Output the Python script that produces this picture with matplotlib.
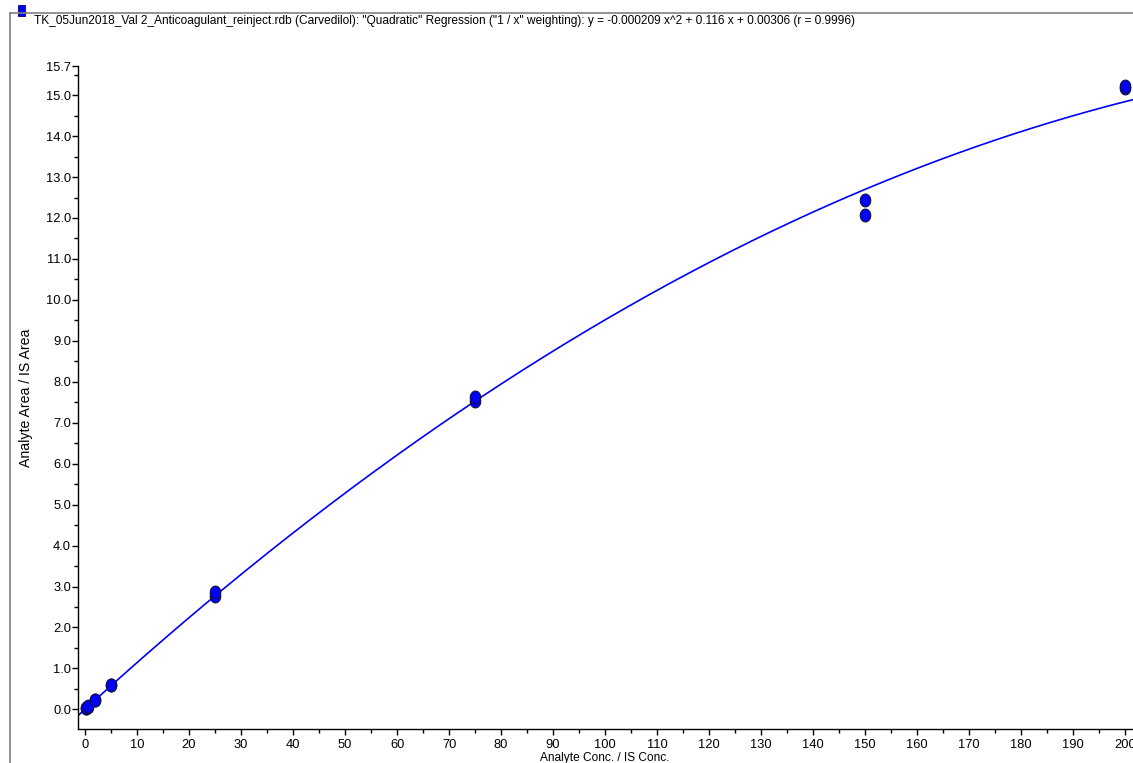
import matplotlib
matplotlib.use("Agg")
import matplotlib.pyplot as plt
import numpy as np
from matplotlib.path import Path
from matplotlib.lines import Line2D
from matplotlib.ticker import MultipleLocator, FixedLocator, FixedFormatter

plt.rcParams['font.family'] = ['Liberation Sans', 'DejaVu Sans']

# Data
conc = [0.25, 0.25, 0.5, 0.5, 2, 2, 5, 5, 25, 25, 75, 75, 150, 150, 200, 200]
ratio = [0.03, 0.04, 0.06, 0.08, 0.23, 0.24, 0.59, 0.60, 2.77, 2.87, 7.53, 7.62, 12.08, 12.44, 15.17, 15.22]
coef_a, coef_b, coef_c = -0.000209, 0.116, 0.00306
title = ('TK_05Jun2018_Val 2_Anticoagulant_reinject.rdb (Carvedilol): "Quadratic" Regression '
         '("1 / x" weighting): y = -0.000209 x^2 + 0.116 x + 0.00306 (r = 0.9996)')
y_ticks = [0.0, 1.0, 2.0, 3.0, 4.0, 5.0, 6.0, 7.0, 8.0, 9.0, 10.0, 11.0, 12.0, 13.0, 14.0, 15.0, 15.7]
x_ticks = list(range(0, 201, 10))

W, H = 1133, 763
fig = plt.figure(figsize=(W / 100, H / 100), dpi=100)

# frame lines
fig.add_artist(Line2D([10 / W, 10 / W], [0, 1 - 13 / H], color='#808080', lw=1.2, transform=fig.transFigure))
fig.add_artist(Line2D([10 / W, 1], [1 - 13 / H, 1 - 13 / H], color='#808080', lw=1.2, transform=fig.transFigure))
# legend square
fig.add_artist(plt.Rectangle((18 / W, 1 - 15.5 / H), 7 / W, 10 / H, facecolor='#0000ff',
                             edgecolor='#000080', lw=0.6, transform=fig.transFigure))
fig.text(34 / W, 1 - 21 / H, title, fontsize=8.6, va='center', ha='left')

left, right, top, bottom = 78, 1133, 66.5, 729
ax = fig.add_axes([left / W, 1 - bottom / H, (right - left) / W, (bottom - top) / H])

xlim = (-1.35, 201.5)
ylim = (-0.48, 15.7)
xx = np.linspace(xlim[0], xlim[1], 400)
ax.plot(xx, coef_a * xx**2 + coef_b * xx + coef_c, color='#0000ff', lw=1.2, zorder=2)

t = np.linspace(0, 2 * np.pi, 40)
ell = Path(np.column_stack([0.82 * np.cos(t), np.sin(t)]))
ax.scatter(conc, ratio, marker=ell, s=85, facecolor='#0000ff', edgecolor='#101040', linewidth=0.8, zorder=3)

ax.set_xlim(*xlim)
ax.set_ylim(*ylim)
for s in ['top', 'right']:
    ax.spines[s].set_visible(False)
ax.spines['left'].set_linewidth(1.0)
ax.spines['bottom'].set_linewidth(1.0)

ax.yaxis.set_major_locator(FixedLocator(y_ticks))
ax.yaxis.set_major_formatter(FixedFormatter([f"{v:.1f}" for v in y_ticks]))
ax.yaxis.set_minor_locator(MultipleLocator(0.5))
ax.xaxis.set_major_locator(FixedLocator(x_ticks))
ax.xaxis.set_major_formatter(FixedFormatter([str(v) for v in x_ticks]))
ax.xaxis.set_minor_locator(MultipleLocator(5))
ax.tick_params(which='major', direction='out', length=4, width=1, labelsize=9.3, pad=1)
ax.tick_params(which='minor', direction='out', length=3, width=1)
ax.tick_params(axis='x', which='major', pad=3)

fig.text(26 / W, 1 - 398 / H, 'Analyte Area / IS Area', rotation=90, fontsize=10.2, ha='center', va='center')
fig.text(605 / W, 1 - 758 / H, 'Analyte Conc. / IS Conc.', fontsize=8.6, ha='center', va='center')

fig.savefig('out.png', dpi=100)
